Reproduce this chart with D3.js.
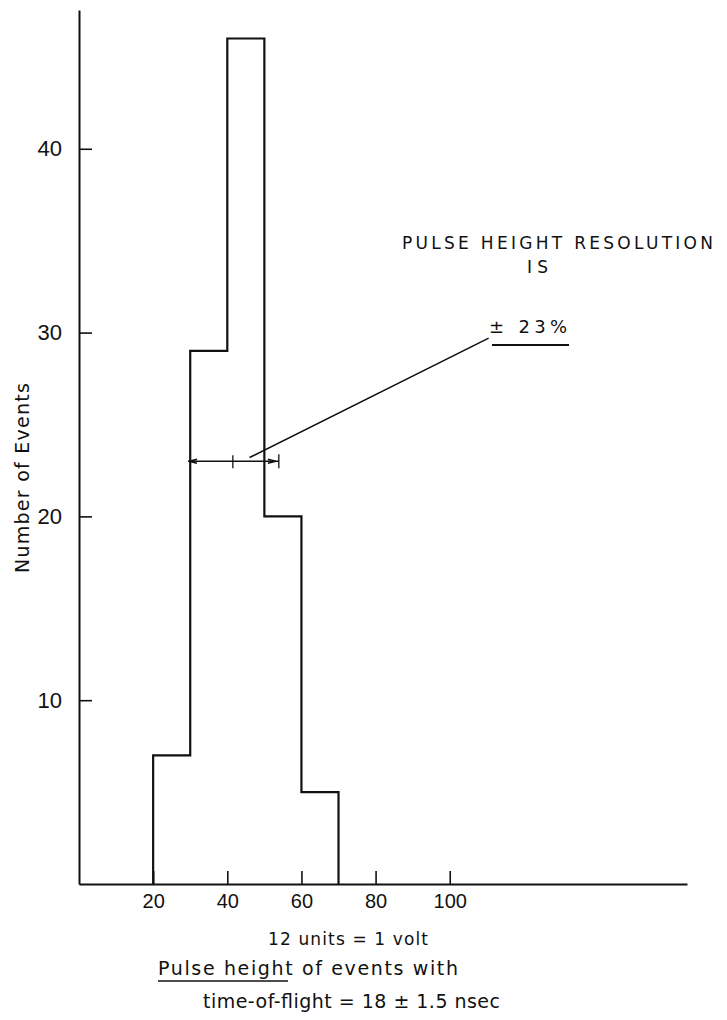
<!DOCTYPE html>
<html>
<head>
<meta charset="utf-8">
<script src="https://cdn.jsdelivr.net/npm/d3@7"></script>
<style>
  body { margin: 0; background: #fff; }
  svg text { font-family: "DejaVu Sans", "Liberation Sans", sans-serif; fill: #111; }
  svg .tick text { font-family: "Liberation Sans Narrow", "Liberation Sans", sans-serif; }
</style>
</head>
<body>
<script>
// histogram data (pulse height bins, number of events)
const binEdges = [20, 30, 40, 50, 60, 70];
const counts = [7, 29, 46, 20, 5];
const xTicks = [20, 40, 60, 80, 100];
const yTicks = [10, 20, 30, 40];

// half maximum width marker: [left, centre, right] at height halfMax
const halfMax = 23;
const fwhm = [29.4, 41.5, 53.9];
// leader line from marker to the "± 23%" note
const leader = [[46, 23.2], [110.5, 29.7]];

const w = 727;
const h = 1020;

const svg = d3.select("body")
    .append("svg")
    .attr("width", w)
    .attr("height", h);

const xScale = d3.scaleLinear()
    .domain([0, 164])
    .range([79, 687]);

const yScale = d3.scaleLinear()
    .domain([0, 47.55])
    .range([884, 10]);

const xAxis = d3.axisBottom(xScale)
    .tickValues(xTicks)
    .tickSizeInner(-13)
    .tickSizeOuter(0)
    .tickPadding(10);

const yAxis = d3.axisLeft(yScale)
    .tickValues(yTicks)
    .tickSizeInner(-13)
    .tickSizeOuter(0)
    .tickPadding(17);

const xAxisG = svg.append("g")
    .attr("transform", `translate(0, ${yScale(0)})`)
    .call(xAxis);

const yAxisG = svg.append("g")
    .attr("transform", `translate(${xScale(0)}, 0)`)
    .call(yAxis);

[xAxisG, yAxisG].forEach(g => {
    g.select(".domain").attr("stroke", "#111").attr("stroke-width", 2);
    g.selectAll(".tick line").attr("stroke", "#111").attr("stroke-width", 1.6);
    g.selectAll(".tick text").attr("fill", "#111");
});
xAxisG.selectAll(".tick text").style("font-size", "20px");
yAxisG.selectAll(".tick text").style("font-size", "22px");

// outline of the histogram
let pts = [[binEdges[0], 0]];
counts.forEach((c, i) => {
    pts.push([binEdges[i], c]);
    pts.push([binEdges[i + 1], c]);
});
pts.push([binEdges[binEdges.length - 1], 0]);

const line = d3.line()
    .x(d => xScale(d[0]))
    .y(d => yScale(d[1]));

svg.append("path")
    .datum(pts)
    .attr("d", line)
    .attr("fill", "none")
    .attr("stroke", "#111")
    .attr("stroke-width", 2.2)
    .attr("stroke-linejoin", "miter");

// half-maximum width marker
const hy = yScale(halfMax);
const xl = xScale(fwhm[0]);
const xc = xScale(fwhm[1]);
const xr = xScale(fwhm[2]);

svg.append("line")
    .attr("x1", xl).attr("x2", xr)
    .attr("y1", hy).attr("y2", hy)
    .attr("stroke", "#111")
    .attr("stroke-width", 1.3);

svg.append("line")
    .attr("x1", xc).attr("x2", xc)
    .attr("y1", hy - 6).attr("y2", hy + 7)
    .attr("stroke", "#111")
    .attr("stroke-width", 1.3);

svg.append("line")
    .attr("x1", xr).attr("x2", xr)
    .attr("y1", hy - 7).attr("y2", hy + 7)
    .attr("stroke", "#111")
    .attr("stroke-width", 1.3);

// small arrow heads
svg.append("path")
    .attr("d", `M${xl + 9},${hy - 2} L${xl + 1},${hy} L${xl + 9},${hy + 2}`)
    .attr("fill", "none")
    .attr("stroke", "#111")
    .attr("stroke-width", 1.3);

svg.append("path")
    .attr("d", `M${xr - 11},${hy - 2} L${xr - 3},${hy} L${xr - 11},${hy + 2}`)
    .attr("fill", "none")
    .attr("stroke", "#111")
    .attr("stroke-width", 1.3);

svg.append("path")
    .datum(leader)
    .attr("d", line)
    .attr("fill", "none")
    .attr("stroke", "#111")
    .attr("stroke-width", 1.6);

// annotation texts
svg.append("text")
    .attr("x", 402)
    .attr("y", 249)
    .attr("textLength", 311)
    .attr("lengthAdjust", "spacing")
    .style("font-size", "17px")
    .text("PULSE HEIGHT RESOLUTION");

svg.append("text")
    .attr("x", 527)
    .attr("y", 273)
    .attr("textLength", 21)
    .attr("lengthAdjust", "spacing")
    .style("font-size", "17px")
    .text("IS");

svg.append("text")
    .attr("x", 489)
    .attr("y", 333)
    .attr("textLength", 78)
    .attr("lengthAdjust", "spacing")
    .style("font-size", "18px")
    .text("± 23%");

svg.append("line")
    .attr("x1", 492).attr("x2", 569)
    .attr("y1", 345).attr("y2", 345)
    .attr("stroke", "#111")
    .attr("stroke-width", 2);

svg.append("text")
    .attr("transform", "translate(29, 478) rotate(-90)")
    .attr("text-anchor", "middle")
    .attr("textLength", 190)
    .attr("lengthAdjust", "spacing")
    .style("font-size", "19px")
    .text("Number of Events");

svg.append("text")
    .attr("x", 268)
    .attr("y", 945)
    .attr("textLength", 160)
    .attr("lengthAdjust", "spacing")
    .style("font-size", "17px")
    .text("12 units = 1 volt");

svg.append("text")
    .attr("x", 158)
    .attr("y", 975)
    .attr("textLength", 300)
    .attr("lengthAdjust", "spacing")
    .style("font-size", "19px")
    .text("Pulse height of events with");

svg.append("line")
    .attr("x1", 158).attr("x2", 288)
    .attr("y1", 981).attr("y2", 981)
    .attr("stroke", "#111")
    .attr("stroke-width", 1.3);

svg.append("text")
    .attr("x", 203)
    .attr("y", 1008)
    .attr("textLength", 297)
    .attr("lengthAdjust", "spacing")
    .style("font-size", "19px")
    .text("time-of-flight = 18 ± 1.5 nsec");
</script>
</body>
</html>
